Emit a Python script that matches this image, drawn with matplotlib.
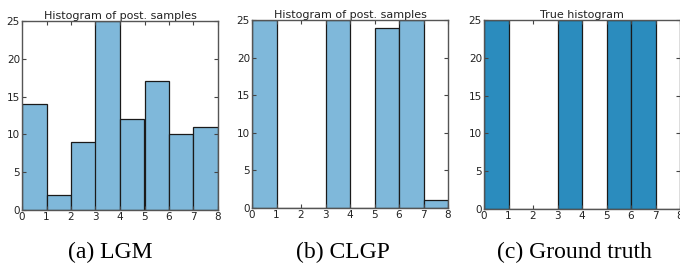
import numpy as np
import matplotlib.pyplot as plt

# bin edges and counts
edges = [0, 1, 2, 3, 4, 5, 6, 7, 8]
lgm_counts = [14, 2, 9, 25, 12, 17, 10, 11]
clgp_counts = [25, 0, 0, 25, 0, 24, 25, 1]
true_counts = [25, 0, 0, 25, 0, 25, 25, 0]

titles = ['Histogram of post. samples', 'Histogram of post. samples', 'True histogram']
captions = ['(a) LGM', '(b) CLGP', '(c) Ground truth']
yticks = [0, 5, 10, 15, 20, 25]

fig = plt.figure(figsize=(6.8, 2.64), dpi=100)

# axes boxes in pixels: left, right, top, bottom
boxes = [(22, 218, 21, 210), (252, 448, 20, 208), (484, 680, 20, 209)]
cap_x = [110, 343, 574]
W, H = 680.0, 264.0

light = '#7fb8da'
dark = '#2b8cbe'

for i, (counts, ttl, box) in enumerate(zip([lgm_counts, clgp_counts, true_counts], titles, boxes)):
    l, r, t, b = box
    ax = fig.add_axes([l / W, 1 - b / H, (r - l) / W, (b - t) / H])
    fc = dark if i == 2 else light
    ax.bar(edges[:-1], counts, width=1, align='edge', color=fc,
           edgecolor='#1a1a1a', linewidth=0.9)
    ax.set_xlim(0, 8)
    ax.set_ylim(0, 25)
    ax.set_xticks(edges)
    ax.set_yticks(yticks)
    ax.tick_params(direction='in', top=True, right=True, labelsize=7.5, length=3,
                   pad=1.5, color='#444444', labelcolor='#222222')
    for s in ax.spines.values():
        s.set_color('#555555')
        s.set_linewidth(1.0)
    ax.set_title(ttl, fontsize=8, pad=1.5, color='#222222')

    fig.text(cap_x[i] / W, 1 - 252 / H, captions[i], ha='center', va='center',
             fontsize=17, family='Liberation Serif')

fig.savefig('out.png', dpi=100)
